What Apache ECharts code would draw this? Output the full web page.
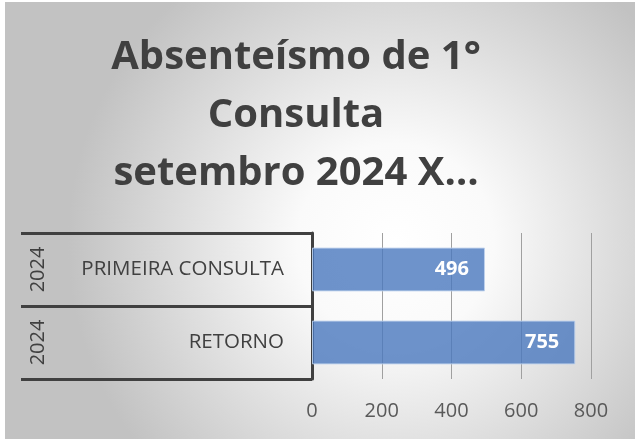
<!DOCTYPE html>
<html>
<head>
<meta charset="utf-8">
<script src="https://cdn.jsdelivr.net/npm/echarts@6/dist/echarts.min.js"></script>
<style>
  * { margin: 0; padding: 0; }
  body { background: #fff; }
  #chart { position: absolute; left: 5px; top: 2px; width: 630px; height: 437px; }
</style>
</head>
<body>
<div id="chart"></div>
<script>
// dados do gráfico
const titleLines = ["Absenteísmo de 1°", "Consulta", "setembro 2024 X…"];
const categories = ["PRIMEIRA CONSULTA", "RETORNO"];
const years = ["2024", "2024"];
const values = [496, 755];
const xMin = 0, xMax = 800, xStep = 200;

const chart = echarts.init(document.getElementById("chart"));
const dark = "#404040";
const font = "Open Sans";

let option = {
  backgroundColor: {
    type: "radial", x: 0.62, y: 0.55, r: 0.75,
    colorStops: [
      { offset: 0, color: "#ffffff" },
      { offset: 0.3, color: "#fafafa" },
      { offset: 1, color: "#c2c2c2" }
    ]
  },
  title: {
    text: titleLines.join("\n"),
    left: 286,
    top: 22,
    textAlign: "center",
    textStyle: {
      fontFamily: font,
      fontWeight: "bold",
      fontSize: 40,
      lineHeight: 58,
      color: dark
    }
  },
  grid: { left: 307, top: 231, width: 279, height: 146 },
  xAxis: {
    type: "value",
    min: xMin, max: xMax, interval: xStep,
    axisLine: { show: false },
    axisTick: { show: false },
    axisLabel: { color: "#595959", fontSize: 20, fontFamily: font, margin: 22 },
    splitLine: { show: true, lineStyle: { color: "#a0a0a0", width: 1 } }
  },
  yAxis: [
    {
      type: "category",
      data: categories,
      inverse: true,
      axisLine: { show: true, lineStyle: { color: dark, width: 3 } },
      axisTick: { show: true, length: 291, lineStyle: { color: dark, width: 3 } },
      axisLabel: { color: dark, fontSize: 20.5, fontFamily: font, margin: 28 }
    },
    {
      type: "category",
      data: years,
      inverse: true,
      position: "left",
      offset: 256,
      axisLine: { show: false },
      axisTick: { show: false },
      axisLabel: { color: dark, fontSize: 20, fontFamily: font, rotate: 90, margin: 8 }
    }
  ],
  series: [
    {
      type: "bar",
      data: values,
      barWidth: "60%",
      itemStyle: { color: "rgba(74,120,190,0.8)", borderColor: "rgba(190,210,236,0.9)", borderWidth: 1 },
      label: {
        show: true,
        position: "insideRight",
        distance: 16,
        color: "#fff",
        fontWeight: "bold",
        fontSize: 20,
        fontFamily: font
      }
    }
  ]
};
chart.setOption(option);
</script>
</body>
</html>
